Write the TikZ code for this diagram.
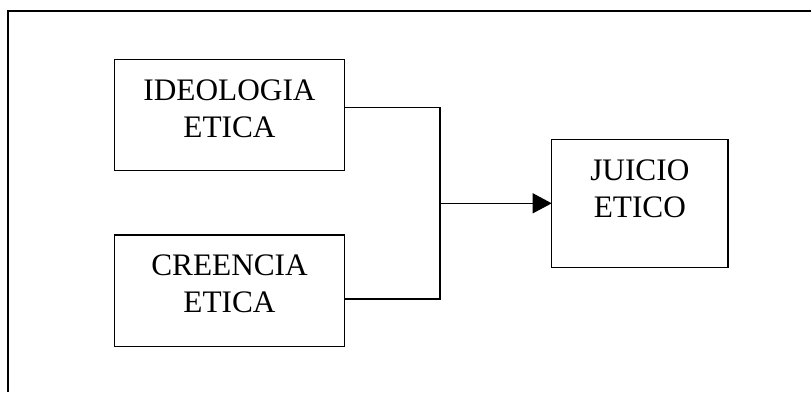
\documentclass[tikz,border=0pt]{standalone}
\usepackage{fontspec}
\setmainfont{Liberation Serif}
\usetikzlibrary{arrows.meta}
\begin{document}
\begin{tikzpicture}[x=1pt,y=1pt,
  box/.style={draw, line width=1.5pt, inner sep=0pt, outer sep=0pt},
  word/.style={anchor=base, inner sep=0pt, font=\fontsize{31.3}{36.7}\selectfont},
  wire/.style={line width=1.2pt},
  frame/.style={line width=2pt}]
\useasboundingbox (0,0) rectangle (811,-392);
% outer frame (open to the right and bottom)
\draw[frame] (8,-392) -- (8,-11) -- (811,-11);

% boxes
\node[box, minimum width=229.6pt, minimum height=111.4pt] (ideo) at (229.5,-115) {};
\node[box, minimum width=229.6pt, minimum height=111.7pt] (cree) at (229.5,-290.85) {};
\node[box, minimum width=176.3pt, minimum height=128pt] (juic) at (639.85,-203.3) {};

% labels
\node[word] (ideo1) at ([yshift=-41pt]ideo.north) {IDEOLOGIA};
\node[word] (ideo2) at ([yshift=-77.7pt]ideo.north) {ETICA};
\node[word] (cree1) at ([yshift=-40pt]cree.north) {CREENCIA};
\node[word] (cree2) at ([yshift=-77.3pt]cree.north) {ETICA};
\node[word] (juic1) at ([yshift=-40.7pt]juic.north) {JUICIO};
\node[word] (juic2) at ([yshift=-78pt]juic.north) {ETICO};

% connectors
\coordinate (j) at (440,-203.3);
\draw[wire] ([yshift=7.7pt]ideo.east) -| (j);
\draw[wire] ([yshift=-8.15pt]cree.east) -| (j);
\draw[wire, -{Triangle[length=19pt,width=20pt]}] (j) -- (juic.west);
\end{tikzpicture}
\end{document}
